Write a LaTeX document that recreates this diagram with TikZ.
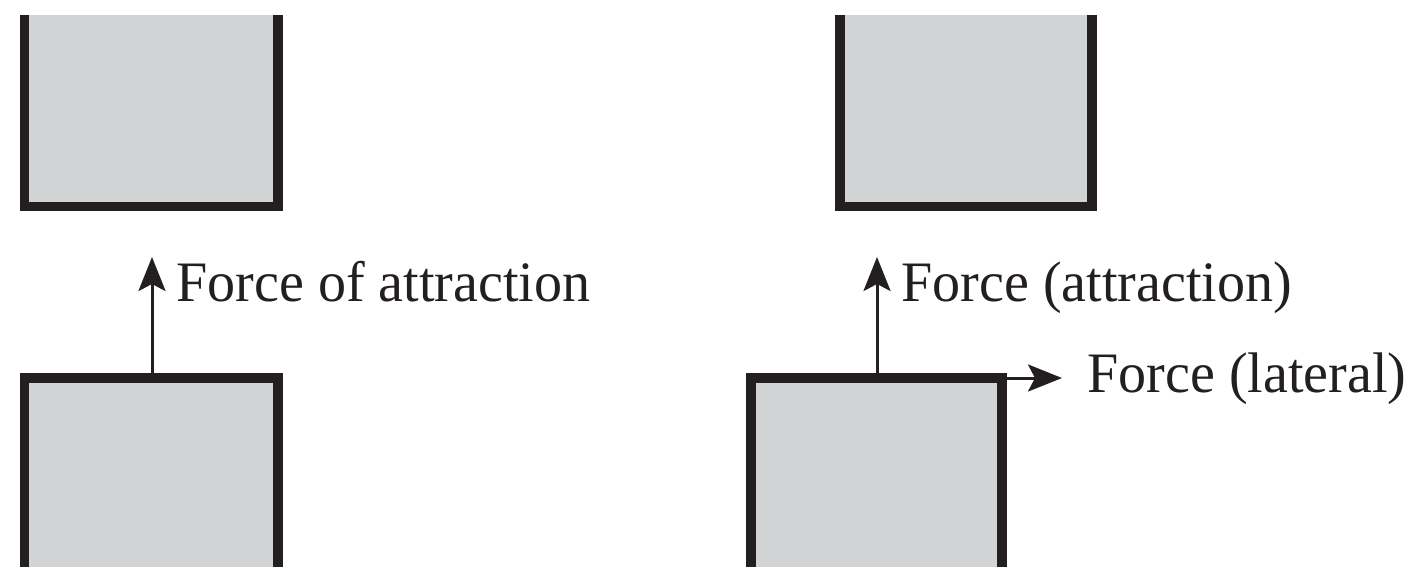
\documentclass[tikz,border=0pt]{standalone}
\usepackage{fontspec}
\setmainfont{Liberation Serif}[FakeStretch=0.98]
\usetikzlibrary{arrows.meta}
\definecolor{ink}{HTML}{231F20}
\definecolor{boxfill}{HTML}{D1D3D4}
\begin{document}
\begin{tikzpicture}[x=0.5pt,y=-0.5pt,
  boxside/.style={draw=ink, line width=4.6pt, line join=miter, line cap=butt},
  boxbody/.style={fill=boxfill},
  forcearrow/.style={draw=ink, line width=1.5pt, -{Stealth[length=17pt,width=13.5pt,inset=3.5pt]}},
  forcetext/.style={anchor=base west, inner sep=0pt, text=ink, font=\rmfamily\fontsize{28.6}{34}\selectfont}]
\useasboundingbox (0,0) rectangle (1411,567);

% top-left block
\coordinate (tlA) at (24.5,15);
\coordinate (tlB) at (24.5,206.5);
\coordinate (tlC) at (278,206.5);
\coordinate (tlD) at (278,15);
\fill[boxbody] (tlA) rectangle (tlC);
\draw[boxside] (tlA) -- (tlB) -- (tlC) -- (tlD);

% bottom-left block
\coordinate (blA) at (24.5,567);
\coordinate (blB) at (24.5,378);
\coordinate (blC) at (278,378);
\coordinate (blD) at (278,567);
\fill[boxbody] (blA) rectangle (blC);
\draw[boxside] (blA) -- (blB) -- (blC) -- (blD);

% top-right block
\coordinate (trA) at (840,15);
\coordinate (trB) at (840,206.5);
\coordinate (trC) at (1092,206.5);
\coordinate (trD) at (1092,15);
\fill[boxbody] (trA) rectangle (trC);
\draw[boxside] (trA) -- (trB) -- (trC) -- (trD);

% bottom-right block
\coordinate (brA) at (751,567);
\coordinate (brB) at (751,378);
\coordinate (brC) at (1002,378);
\coordinate (brD) at (1002,567);
\fill[boxbody] (brA) rectangle (brC);
\draw[boxside] (brA) -- (brB) -- (brC) -- (brD);

% forces, left
\coordinate (f1s) at (152,378);
\coordinate (f1t) at (152,257);
\draw[forcearrow] (f1s) -- (f1t);
\node[forcetext] (t1) at (176,301) {Force of attraction};

% forces, right
\coordinate (f2s) at (877,378);
\coordinate (f2t) at (877,257);
\draw[forcearrow] (f2s) -- (f2t);
\node[forcetext] (t2) at (901,301) {Force (attraction)};

\coordinate (f3t) at (1062,378);
\draw[forcearrow] (brC) -- (f3t);
\node[forcetext] (t3) at (1087,392) {Force (lateral)};
\end{tikzpicture}
\end{document}
